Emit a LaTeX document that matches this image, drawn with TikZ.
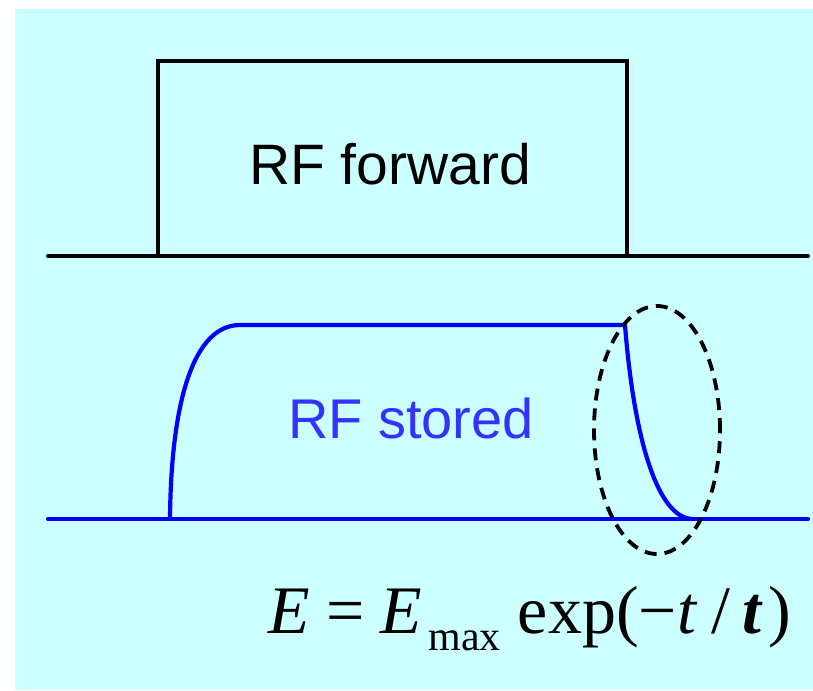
\documentclass[tikz,border=0pt]{standalone}
\usepackage{fontspec}
\setmainfont{Liberation Sans}
\newfontfamily\tms{Liberation Serif}
\usetikzlibrary{shapes.geometric}
\definecolor{bgcyan}{HTML}{CCFFFF}
\definecolor{storedblue}{HTML}{3333FF}
\tikzset{
  axisline/.style={line width=4pt, line cap=round},
  pulse/.style={line width=4.2pt, blue, line join=round},
  lbl/.style={inner sep=0pt, anchor=base},
}
\begin{document}
\begin{tikzpicture}[x=1pt,y=-1pt]
\useasboundingbox (0,0) rectangle (813,690);
\fill[bgcyan] (15,9) rectangle (813,690);
% forward pulse
\coordinate (fwdL) at (48,256);
\coordinate (fwdR) at (808,256);
\draw[axisline, black] (fwdL) -- (fwdR);
\draw[line width=4pt, line join=miter] (157.5,256) -- (157.5,61.5) -- (627,61.5) -- (627,256);
\node[lbl] (fwd) at (390,184) {\fontsize{57}{60}\selectfont RF forward};
% stored
\coordinate (stoL) at (48,519);
\coordinate (stoR) at (808,519);
\draw[axisline, blue, line width=4.2pt] (stoL) -- (stoR);
\draw[pulse] (170,519) .. controls (171,400) and (194,325) .. (240,325) -- (625,325)
  .. controls (634,440) and (658,519) .. (693,519);
\node[lbl, text=storedblue] (sto) at (411,438) {\fontsize{56}{60}\selectfont RF stored};
% ellipse
\node[draw, dashed, dash pattern=on 12pt off 8pt, line width=3.8pt, ellipse, minimum width=126pt, minimum height=248pt, inner sep=0pt] (decay) at (657,430) {};
% formula
\node[inner sep=0pt, anchor=base west] (eq) at (268,633) {\tms\fontsize{68}{70}\selectfont
  \textit{E}\kern17pt=\kern15pt\textit{E}\kern7pt\raisebox{-0.25em}{\fontsize{42}{44}\selectfont max}\kern17pt\relax exp(−\textit{t}\kern14pt/\kern12pt\textbf{\textit{t}}\kern6pt)};
\end{tikzpicture}
\end{document}
